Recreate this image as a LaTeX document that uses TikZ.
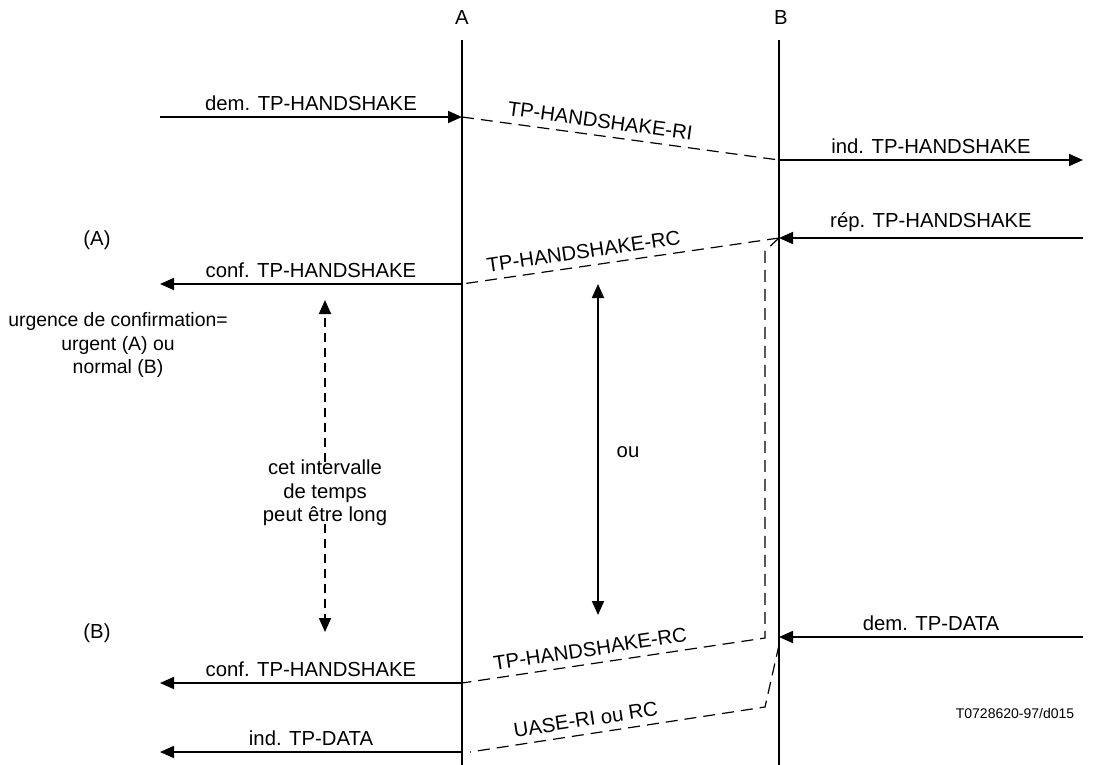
\documentclass[tikz,border=0pt]{standalone}
\usepackage{fontspec}
\setmainfont{Liberation Sans}
\usetikzlibrary{arrows.meta}
\begin{document}
\begin{tikzpicture}[x=1pt,y=-1pt,
  every node/.style={font=\fontsize{20.3}{23.5}\selectfont, inner sep=2pt},
  life/.style={line width=1.8pt},
  msg/.style={line width=1.8pt, -{Triangle[length=14pt,width=12pt]}},
  pdu/.style={line width=1.2pt, dash pattern=on 12pt off 7pt},
  both/.style={line width=1.8pt, {Triangle[length=14pt,width=12pt]}-{Triangle[length=14pt,width=12pt]}},
  dhalf/.style={line width=1.8pt, dash pattern=on 9pt off 6pt, -{Triangle[length=14pt,width=12pt]}},
  lbl/.style={above=3pt}
]
\useasboundingbox (0,0) rectangle (1100,765);
% lifelines
\node (A) at (462,18) {A};
\node (B) at (781,18) {B};
\coordinate (Atop) at (462,40);
\coordinate (Abot) at (462,765);
\coordinate (Btop) at (779,40);
\coordinate (Bbot) at (779,765);
\draw[life] (Atop) -- (Abot);
\draw[life] (Btop) -- (Bbot);
% coordinates
\coordinate (l1) at (160,117);
\coordinate (a1) at (462,117);
\coordinate (b1) at (779,160);
\coordinate (r1) at (1083,160);
\coordinate (r2) at (1083,238);
\coordinate (b2) at (779,238);
\coordinate (a2) at (462,284);
\coordinate (l2) at (160,284);
\coordinate (k1) at (765,251);
\coordinate (k2) at (765,638);
\coordinate (a3) at (462,683);
\coordinate (l3) at (160,683);
\coordinate (r4) at (1083,637);
\coordinate (b4) at (779,637);
\coordinate (b4s) at (779,645);
\coordinate (k3) at (765,707);
\coordinate (a4) at (470,752);
\coordinate (a4s) at (462,752);
\coordinate (l4) at (160,752);
% messages
\draw[msg] (l1) -- node[lbl]{dem. TP-HANDSHAKE} (a1);
\draw[pdu] (a1) -- node[pos=0.43, sloped, above=5pt]{TP-HANDSHAKE-RI} (b1);
\draw[msg] (b1) -- node[lbl]{ind. TP-HANDSHAKE} (r1);
\draw[msg] (r2) -- node[lbl]{rép. TP-HANDSHAKE} (b2);
\draw[pdu] (b2) -- node[pos=0.61, sloped, above=5pt]{TP-HANDSHAKE-RC} (a2);
\draw[msg] (a2) -- node[lbl]{conf. TP-HANDSHAKE} (l2);
\draw[pdu] (b2) -- (k1) -- (k2) -- node[pos=0.57, sloped, above=5pt]{TP-HANDSHAKE-RC} (a3);
\draw[msg] (a3) -- node[lbl]{conf. TP-HANDSHAKE} (l3);
\draw[msg] (r4) -- node[lbl]{dem. TP-DATA} (b4);
\draw[pdu] (b4s) -- (k3) -- node[pos=0.6, sloped, above=5pt]{UASE-RI ou RC} (a4);
\draw[msg] (a4s) -- node[lbl]{ind. TP-DATA} (l4);
% side labels
\node (labA) at (97,240) {(A)};
\node (labB) at (97,633) {(B)};
\node[align=center, font=\fontsize{19.4}{23.2}\selectfont] (urg) at (118,345) {urgence de confirmation=\\urgent (A) ou\\normal (B)};
% interval
\node[align=center, inner sep=1pt] (cet) at (325,493) {cet intervalle\\de temps\\peut être long};
\coordinate (i1) at (325,300);
\coordinate (i2) at (325,632);
\draw[dhalf] ([yshift=-3pt]cet.north) -- (i1);
\draw[dhalf] ([yshift=3pt]cet.south) -- (i2);
\coordinate (o1) at (598,284);
\coordinate (o2) at (598,615);
\draw[both] (o1) -- (o2);
\node (ou) at (628,452) {ou};
\node[font=\fontsize{14}{16}\selectfont] (ref) at (1015,713) {T0728620-97/d015};
\end{tikzpicture}
\end{document}
